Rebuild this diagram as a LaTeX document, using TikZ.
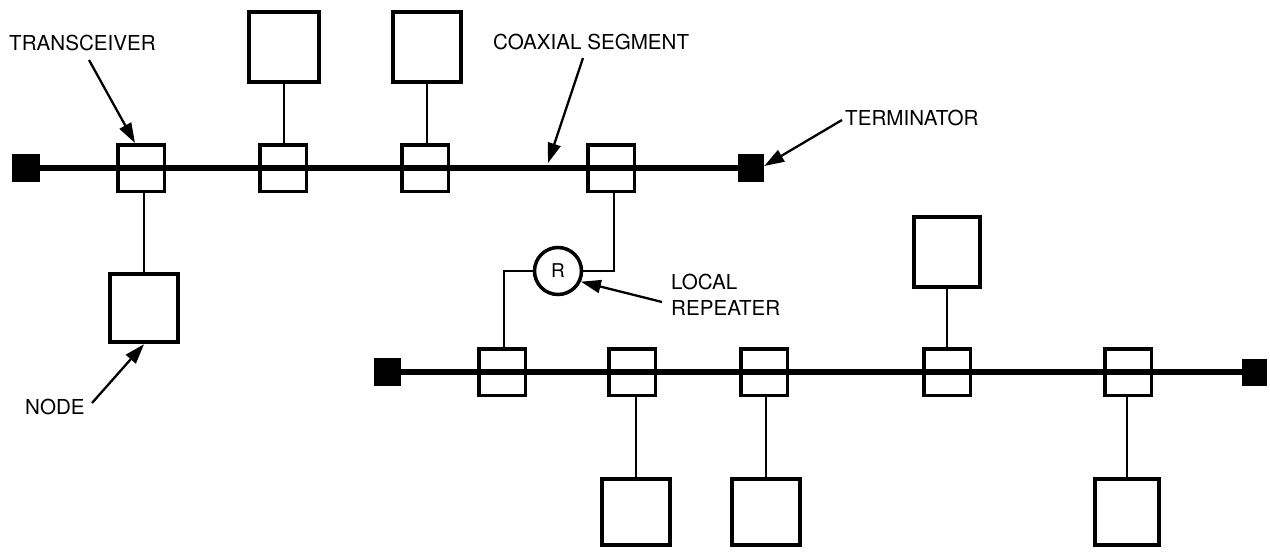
\documentclass[tikz,border=0pt]{standalone}
\usepackage{fontspec}
\setmainfont{TeX Gyre Heros}
\usetikzlibrary{arrows.meta}
\begin{document}
\begin{tikzpicture}[x=1pt,y=-1pt,
 coax/.style={line width=6.5pt},
 trx/.style={draw, line width=3.5pt, minimum width=46.5pt, minimum height=46.5pt, inner sep=0pt},
 station/.style={draw, line width=4pt, inner sep=0pt, minimum width=68.5pt, minimum height=70.5pt},
 term/.style={fill=black, inner sep=0pt, minimum width=28pt, minimum height=28pt},
 drop/.style={line width=2pt},
 lbl/.style={font=\fontsize{20.6}{26}\selectfont, inner sep=0pt, anchor=west, align=left},
 pointer/.style={line width=2.3pt, -{Triangle[length=20pt,width=13pt]}}
]
\useasboundingbox[fill=white] (0,0) rectangle (1270,552);

% ---------- upper segment ----------
\node[term] (tl1) at (26,168) {};
\node[term, minimum width=26pt] (tr1) at (751,168) {};
\draw[coax] (tl1.center) -- (tr1.center);
\node[trx] (t1) at (141,168) {};
\node[trx] (t2) at (283,168) {};
\node[trx] (t3) at (425,168) {};
\node[trx] (t4) at (611,168) {};

\node[station, minimum width=69.5pt] (n2) at (284,47) {};
\node[station] (n3) at (427,47) {};
\node[station, minimum height=68.5pt] (n1) at (144,308) {};

\draw[drop] (n2.south) -- (n2.south |- t2.north);
\draw[drop] (n3.south) -- (n3.south |- t3.north);
\draw[drop] (n1.north |- t1.south) -- (n1.north);

% ---------- repeater ----------
\node[draw, circle, line width=3.5pt, minimum size=47pt, inner sep=0pt,
      font=\fontsize{19}{19}\selectfont] (rep) at (558,271) {R};
\draw[drop] (rep.east) -| ([xshift=3pt]t4.south);

% ---------- lower segment ----------
\node[term, minimum width=27pt] (tl2) at (387,372) {};
\node[term, minimum width=25pt, minimum height=27pt] (tr2) at (1254,372) {};
\draw[coax] (tl2.center) -- (tr2.center);
\node[trx] (b1) at (502,372) {};
\node[trx] (b2) at (632,372) {};
\node[trx] (b3) at (764,372) {};
\node[trx] (b4) at (947,372) {};
\node[trx] (b5) at (1128,372) {};

\draw[drop] (rep.west) -| ([xshift=2pt]b1.north);

\node[station, minimum width=66.5pt] (m4) at (947,252) {};
\node[station, minimum height=66.5pt] (m1) at (636,512) {};
\node[station, minimum width=67.5pt, minimum height=66.5pt] (m2) at (766,512) {};
\node[station, minimum width=64.5pt, minimum height=66.5pt] (m3) at (1127,512) {};

\draw[drop] (m4.south) -- (m4.south |- b4.north);
\draw[drop] (m1.north |- b2.south) -- (m1.north);
\draw[drop] (m2.north |- b3.south) -- (m2.north);
\draw[drop] (m3.north |- b5.south) -- (m3.north);

% ---------- labels ----------
\node[lbl] (ltrx) at (9,43) {TRANSCEIVER};
\node[lbl] (lcoax) at (493,42) {COAXIAL SEGMENT};
\node[lbl] (lterm) at (845,118) {TERMINATOR};
\node[lbl] (lrep) at (671,295) {LOCAL\\REPEATER};
\node[lbl] (lnode) at (25,407) {NODE};

\coordinate (atrx) at (89,60);
\coordinate (acoax) at (583,58);
\coordinate (aterm) at (842,120);
\coordinate (arep) at (662,302);
\coordinate (anode) at (92,403);
\coordinate (hcoax) at (548,163);

\draw[pointer] (atrx) -- ([xshift=-6pt]t1.north);
\draw[pointer] (acoax) -- (hcoax);
\draw[pointer] (aterm) -- ([yshift=2pt]tr1.east);
\draw[pointer] (arep) -- (rep.-25);
\draw[pointer] (anode) -- (n1.south);
\end{tikzpicture}
\end{document}
